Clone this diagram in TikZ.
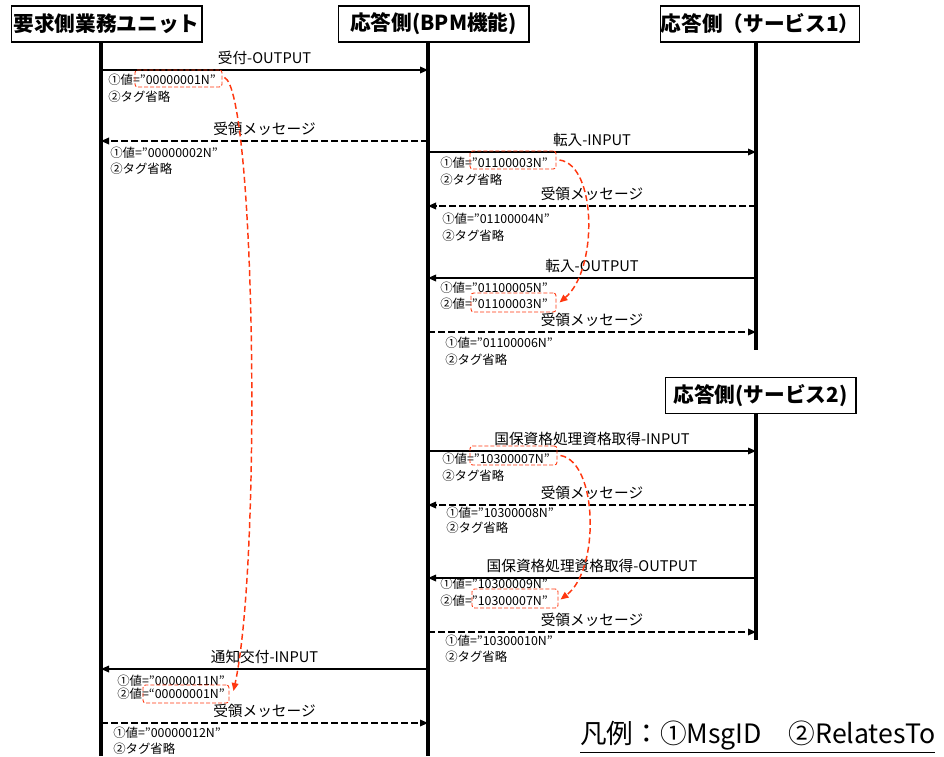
\documentclass[tikz,border=0pt]{standalone}
\usepackage{fontspec}
\setmainfont{Noto Sans CJK JP}
\usetikzlibrary{arrows.meta,positioning,calc,fit}
\definecolor{tracered}{RGB}{255,55,15}
\tikzset{
  actor/.style={draw, line width=1pt, font=\fontsize{15.5}{18}\selectfont\bfseries,
    minimum width=143pt, minimum height=27pt, inner sep=0pt},
  life/.style={line width=3.2pt},
  call/.style={->, line width=0.9pt},
  reply/.style={->, line width=0.9pt, dash pattern=on 5pt off 2.5pt},
  lbl/.style={font=\fontsize{11}{13}\selectfont, yshift=9pt, inner sep=0pt},
  info/.style={anchor=west, font=\fontsize{9.3}{11}\selectfont, inner sep=0pt},
  hl/.style={draw=tracered, line width=0.7pt, dash pattern=on 3pt off 1.5pt,
    rounded corners=2pt, inner sep=0pt},
  trace/.style={draw=tracered, line width=1.1pt, dash pattern=on 4.5pt off 2.5pt,
    -{Triangle[length=6pt,width=5pt]}},
}
\begin{document}
\begin{tikzpicture}[x=0.75pt, y=-0.75pt, >={Triangle[length=6pt,width=5pt]}]
\useasboundingbox (0,0) rectangle (944,756);
\node[actor] (req) at (106.5,24) {要求側業務ユニット};
\node[actor] (bpm) at (433.5,24) {応答側(BPM機能)};
\node[actor] (svc1) at (760,24) {応答側（サービス1）};
\node[actor] (svc2) at (760.5,395.5) {応答側(サービス2)};

\coordinate (reqEnd) at (101,756);
\coordinate (bpmEnd) at (428,756);
\coordinate (svc1End) at (756,350);
\coordinate (svc2End) at (756,640);
\draw[life] (reqEnd |- req.south) -- (reqEnd);
\draw[life] (bpmEnd |- bpm.south) -- (bpmEnd);
\draw[life] (svc1End |- svc1.south) -- (svc1End);
\draw[life] (svc2End |- svc2.south) -- (svc2End);

\coordinate (p1) at (101,70);   \coordinate (q1) at (428,70);
\coordinate (p2) at (101,141);  \coordinate (q2) at (428,141);
\coordinate (p3) at (428,152);  \coordinate (q3) at (756,152);
\coordinate (p4) at (428,206);  \coordinate (q4) at (756,206);
\coordinate (p5) at (428,278);  \coordinate (q5) at (756,278);
\coordinate (p6) at (428,332);  \coordinate (q6) at (756,332);
\coordinate (p7) at (428,451);  \coordinate (q7) at (756,451);
\coordinate (p8) at (428,505);  \coordinate (q8) at (756,505);
\coordinate (p9) at (428,578);  \coordinate (q9) at (756,578);
\coordinate (p10) at (428,632); \coordinate (q10) at (756,632);
\coordinate (p11) at (101,669); \coordinate (q11) at (428,669);
\coordinate (p12) at (101,723); \coordinate (q12) at (428,723);

\draw[call] (p1) -- node[lbl] {受付-OUTPUT} (q1);
\node[info] (i1a) at ($(p1)+(7,10)$) {①値=”00000001N”};
\node[info] (i1b) at ($(i1a.west)+(0,17)$) {②タグ省略};

\draw[reply] (q2) -- node[lbl] {受領メッセージ} (p2);
\node[info] (i2a) at ($(p2)+(9,12)$) {①値=”00000002N”};
\node[info] (i2b) at ($(i2a.west)+(0,16)$) {②タグ省略};

\draw[call] (p3) -- node[lbl] {転入-INPUT} (q3);
\node[info] (i3a) at ($(p3)+(12,11)$) {①値=”01100003N”};
\node[info] (i3b) at ($(i3a.west)+(0,17)$) {②タグ省略};

\draw[reply] (q4) -- node[lbl] {受領メッセージ} (p4);
\node[info] (i4a) at ($(p4)+(14,13)$) {①値=”01100004N”};
\node[info] (i4b) at ($(i4a.west)+(0,17)$) {②タグ省略};

\draw[call] (q5) -- node[lbl] {転入-OUTPUT} (p5);
\node[info] (i5a) at ($(p5)+(12,9.5)$) {①値=”01100005N”};
\node[info] (i5b) at ($(i5a.west)+(0,16.5)$) {②値=”01100003N”};

\draw[reply] (p6) -- node[lbl] {受領メッセージ} (q6);
\node[info] (i6a) at ($(p6)+(17,10.5)$) {①値=”01100006N”};
\node[info] (i6b) at ($(i6a.west)+(0,17.5)$) {②タグ省略};

\draw[call] (p7) -- node[lbl] {国保資格処理資格取得-INPUT} (q7);
\node[info] (i7a) at ($(p7)+(14,8)$) {①値=”10300007N”};
\node[info] (i7b) at ($(i7a.west)+(0,17)$) {②タグ省略};

\draw[reply] (q8) -- node[lbl] {受領メッセージ} (p8);
\node[info] (i8a) at ($(p8)+(18,8)$) {①値=”10300008N”};
\node[info] (i8b) at ($(i8a.west)+(0,15)$) {②タグ省略};

\draw[call] (q9) -- node[lbl] {国保資格処理資格取得-OUTPUT} (p9);
\node[info] (i9a) at ($(p9)+(12,6)$) {①値=”10300009N”};
\node[info] (i9b) at ($(i9a.west)+(0,17)$) {②値=”10300007N”};

\draw[reply] (p10) -- node[lbl] {受領メッセージ} (q10);
\node[info] (i10a) at ($(p10)+(17,9)$) {①値=”10300010N”};
\node[info] (i10b) at ($(i10a.west)+(0,16)$) {②タグ省略};

\draw[call] (q11) -- node[lbl] {通知交付-INPUT} (p11);
\node[info] (i11a) at ($(p11)+(16,12)$) {①値=”00000011N”};
\node[info] (i11b) at ($(i11a.west)+(0,13)$) {②値=“00000001N”};

\draw[reply] (p12) -- node[lbl] {受領メッセージ} (q12);
\node[info] (i12a) at ($(p12)+(12,9.5)$) {①値=”00000012N”};
\node[info] (i12b) at ($(i12a.west)+(0,16.5)$) {②タグ省略};

\node[hl, fit={(135,70) (222,87)}] (h1) {};
\node[hl, fit={(470,151) (556,169)}] (h2) {};
\node[hl, fit={(471,293) (556,312)}] (h3) {};
\node[hl, fit={(470,446) (557,465)}] (h4) {};
\node[hl, fit={(472,589) (558,608)}] (h5) {};
\node[hl, fit={(143,685) (229,703)}] (h6) {};
\draw[trace] ($(h1.east)+(2,-1)$) .. controls (255,90) and (262,560) .. ($(h6.east)+(4,-3)$);
\draw[trace] ($(h2.east)+(3,0)$) .. controls (597,165) and (598,270) .. ($(h3.east)+(3,0)$);
\draw[trace] ($(h4.east)+(3,0)$) .. controls (598,462) and (600,570) .. ($(h5.east)+(2,1)$);

\node[anchor=east, font=\fontsize{20}{24}\selectfont] (key) at (940,737) {\underline{凡例：①MsgID　②RelatesTo}};
\end{tikzpicture}
\end{document}
